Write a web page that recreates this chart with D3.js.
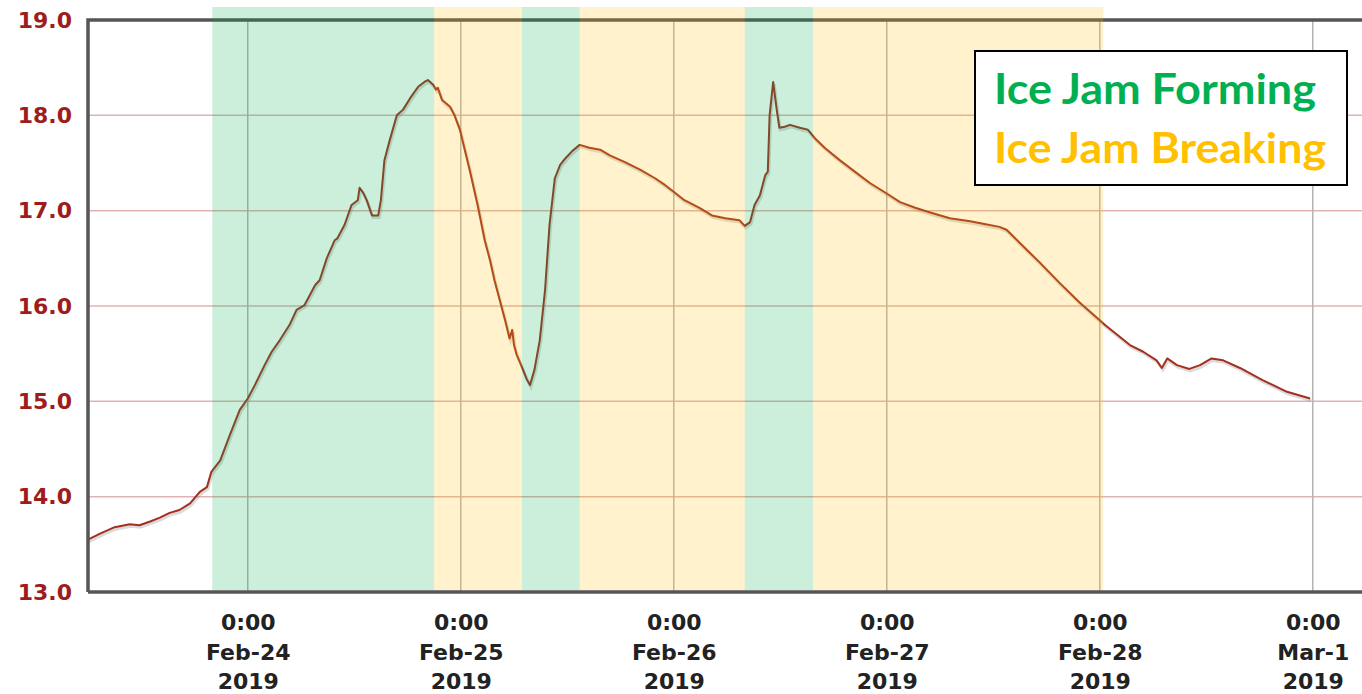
<!DOCTYPE html>
<html>
<head>
<meta charset="utf-8">
<script src="https://cdn.jsdelivr.net/npm/d3@7"></script>
<style>
  body { margin: 0; background: #fff; }
  #chart { width: 1362px; height: 694px; overflow: hidden; }
</style>
</head>
<body>
<div id="chart"></div>
<script>
// hours counted from 0:00 Feb-23 2019
const hours = [
  6.0, 7.3, 9.0, 10.7, 11.8, 13.0, 14.1, 15.2, 16.3, 17.5,
  18.6, 19.4, 19.9, 20.9, 22.0, 23.1, 24.0, 24.8, 25.9, 26.7,
  27.6, 28.7, 29.5, 30.4, 31.6, 32.1, 32.9, 33.8, 34.1, 34.9,
  35.7, 36.4, 36.6, 37.0, 37.4, 38.0, 38.7, 39.0, 39.4, 40.0,
  40.8, 41.5, 42.3, 43.2, 43.9, 44.3, 44.9, 45.2, 45.4, 45.9,
  46.8, 47.3, 47.9, 49.0, 49.9, 50.7, 51.3, 51.8, 52.4, 53.0,
  53.5, 53.8, 54.0, 54.3, 54.8, 55.4, 55.8, 56.3, 56.9, 57.5,
  58.0, 58.6, 59.2, 59.8, 60.5, 61.4, 62.5, 63.7, 64.8, 66.5,
  68.2, 69.9, 71.0, 72.1, 73.2, 74.9, 76.3, 77.8, 79.4, 80.0,
  80.6, 81.1, 81.7, 82.3, 82.6, 82.8, 83.2, 83.6, 83.9, 84.5,
  85.1, 86.2, 87.1, 87.9, 89.0, 90.7, 92.4, 94.1, 96.0, 97.5,
  99.2, 100.9, 103.1, 105.4, 107.0, 108.7, 109.5, 111.0, 113.2, 115.5,
  117.7, 120.0, 120.6, 123.4, 124.9, 126.4, 127.0, 127.6, 128.7, 130.1,
  131.3, 132.6, 133.9, 135.8, 138.4, 141.1, 143.7
];
const stage = [
  13.55, 13.61, 13.68, 13.71, 13.70, 13.74, 13.78, 13.83, 13.86, 13.93,
  14.05, 14.10, 14.26, 14.38, 14.65, 14.91, 15.03, 15.17, 15.38, 15.52,
  15.64, 15.80, 15.96, 16.01, 16.22, 16.27, 16.50, 16.69, 16.71, 16.85,
  17.06, 17.11, 17.24, 17.19, 17.11, 16.95, 16.95, 17.11, 17.53, 17.74,
  18.00, 18.06, 18.18, 18.30, 18.35, 18.37, 18.32, 18.27, 18.29, 18.16,
  18.09, 18.00, 17.85, 17.43, 17.06, 16.69, 16.48, 16.27, 16.06, 15.85,
  15.66, 15.75, 15.59, 15.49, 15.38, 15.24, 15.17, 15.33, 15.64, 16.17,
  16.85, 17.34, 17.48, 17.55, 17.62, 17.69, 17.66, 17.64, 17.58, 17.51,
  17.43, 17.34, 17.27, 17.19, 17.11, 17.03, 16.95, 16.92, 16.90, 16.84,
  16.88, 17.06, 17.16, 17.37, 17.41, 18.00, 18.35, 18.06, 17.87, 17.88,
  17.90, 17.87, 17.85, 17.76, 17.66, 17.53, 17.41, 17.29, 17.18, 17.09,
  17.03, 16.98, 16.92, 16.89, 16.86, 16.83, 16.80, 16.66, 16.46, 16.24,
  16.04, 15.85, 15.80, 15.59, 15.52, 15.43, 15.35, 15.45, 15.38, 15.34,
  15.38, 15.45, 15.43, 15.35, 15.22, 15.10, 15.03
];

// shaded periods (hours from 0:00 Feb-23)
const bandStart = [20.0, 45.0, 54.9, 61.4, 80.0, 87.7];
const bandEnd   = [45.0, 54.9, 61.4, 80.0, 87.7, 120.4];
const bandKind  = ["forming", "breaking", "forming", "breaking", "forming", "breaking"];

const yTicks = [13, 14, 15, 16, 17, 18, 19];
const tickHours = [24, 48, 72, 96, 120, 144];
const tickTime = ["0:00", "0:00", "0:00", "0:00", "0:00", "0:00"];
const tickDay = ["Feb-24", "Feb-25", "Feb-26", "Feb-27", "Feb-28", "Mar-1"];
const tickYear = ["2019", "2019", "2019", "2019", "2019", "2019"];

const legendLabels = ["Ice Jam Forming", "Ice Jam Breaking"];
const kindColor = {forming: "#00b050", breaking: "#ffc000"};

const base = new Date(2019, 1, 23, 0, 0, 0);
const toDate = h => new Date(base.getTime() + h * 3600 * 1000);

const width = 1362, height = 694;
const plot = {left: 88, top: 20, bottom: 592, right: 1366};

const svg = d3.select("#chart").append("svg")
    .attr("width", width)
    .attr("height", height);

const x = d3.scaleTime()
    .domain([toDate(6), toDate(150)])
    .range([plot.left, plot.right]);

const y = d3.scaleLinear()
    .domain([13, 19])
    .range([plot.bottom, plot.top]);

// horizontal grid
svg.append("g")
  .selectAll("line")
  .data(yTicks.filter(d => d > 13 && d < 19))
  .enter().append("line")
    .attr("x1", plot.left).attr("x2", width)
    .attr("y1", d => y(d)).attr("y2", d => y(d))
    .attr("stroke", "#dfb3b3")
    .attr("stroke-width", 1.5);

// vertical grid
svg.append("g")
  .selectAll("line")
  .data(tickHours)
  .enter().append("line")
    .attr("x1", d => x(toDate(d))).attr("x2", d => x(toDate(d)))
    .attr("y1", plot.top).attr("y2", plot.bottom)
    .attr("stroke", "#b4b4b4")
    .attr("stroke-width", 1.5);

// series
const pts = hours.map((h, i) => [toDate(h), stage[i]]);
const line = d3.line()
    .x(d => x(d[0]))
    .y(d => y(d[1]));

svg.append("path")
    .datum(pts)
    .attr("d", line)
    .attr("transform", "translate(1,2)")
    .attr("fill", "none")
    .attr("stroke", "#888")
    .attr("stroke-opacity", 0.3)
    .attr("stroke-width", 3);

svg.append("path")
    .datum(pts)
    .attr("d", line)
    .attr("fill", "none")
    .attr("stroke", "#a3301f")
    .attr("stroke-width", 2)
    .attr("stroke-linejoin", "round");

// frame (left + top)
svg.append("path")
    .attr("d", `M${width},${plot.top}H${plot.left}V${plot.bottom}`)
    .attr("fill", "none")
    .attr("stroke", "#555")
    .attr("stroke-width", 3.5);

// shaded bands drawn over the chart
svg.append("g")
  .selectAll("rect")
  .data(bandStart)
  .enter().append("rect")
    .attr("x", d => x(toDate(d)))
    .attr("width", (d, i) => x(toDate(bandEnd[i])) - x(toDate(d)))
    .attr("y", plot.top - 13)
    .attr("height", plot.bottom - 2 - (plot.top - 13))
    .attr("fill", (d, i) => kindColor[bandKind[i]])
    .attr("fill-opacity", 0.2);

// x axis
const xAxis = svg.append("g")
    .attr("transform", `translate(0,${plot.bottom})`)
    .call(d3.axisBottom(x)
      .tickValues(tickHours.map(toDate))
      .tickSize(0)
      .tickFormat(""));
xAxis.select(".domain")
    .attr("d", `M${plot.left},0H${width}`)
    .attr("stroke", "#555")
    .attr("stroke-width", 3.5);

xAxis.selectAll(".tick text").remove();
xAxis.selectAll(".tick").each(function(d, i) {
  const t = d3.select(this).append("text")
      .attr("text-anchor", "middle")
      .attr("fill", "#222")
      .style("font-family", "'DejaVu Sans', Verdana, sans-serif")
      .style("font-weight", "bold")
      .style("font-size", "22px");
  [tickTime[i], tickDay[i], tickYear[i]].forEach((s, k) => {
    t.append("tspan")
        .attr("x", 0)
        .attr("y", 38 + k * 29.5)
        .text(s);
  });
});

// y axis
const yAxis = svg.append("g")
    .attr("transform", `translate(${plot.left},0)`)
    .call(d3.axisLeft(y)
      .tickValues(yTicks)
      .tickSize(0)
      .tickPadding(16)
      .tickFormat(d3.format(".1f")));
yAxis.select(".domain").remove();
yAxis.selectAll("text")
    .attr("fill", "#9e1c1c")
    .style("font-family", "'DejaVu Sans', Verdana, sans-serif")
    .style("font-weight", "bold")
    .style("font-size", "22px");

// legend
const legend = svg.append("g");
legend.append("rect")
    .attr("x", 975).attr("y", 51)
    .attr("width", 372).attr("height", 134)
    .attr("fill", "#fff")
    .attr("stroke", "#000")
    .attr("stroke-width", 2);

legend.selectAll("text")
  .data(legendLabels)
  .enter().append("text")
    .attr("x", 994)
    .attr("y", (d, i) => 104 + i * 59)
    .attr("textLength", (d, i) => i === 0 ? 322 : 332)
    .attr("lengthAdjust", "spacingAndGlyphs")
    .attr("fill", (d, i) => i === 0 ? kindColor.forming : kindColor.breaking)
    .style("font-family", "Lato, 'Open Sans', sans-serif")
    .style("font-weight", "bold")
    .style("font-size", "42px")
    .text(d => d);
</script>
</body>
</html>
